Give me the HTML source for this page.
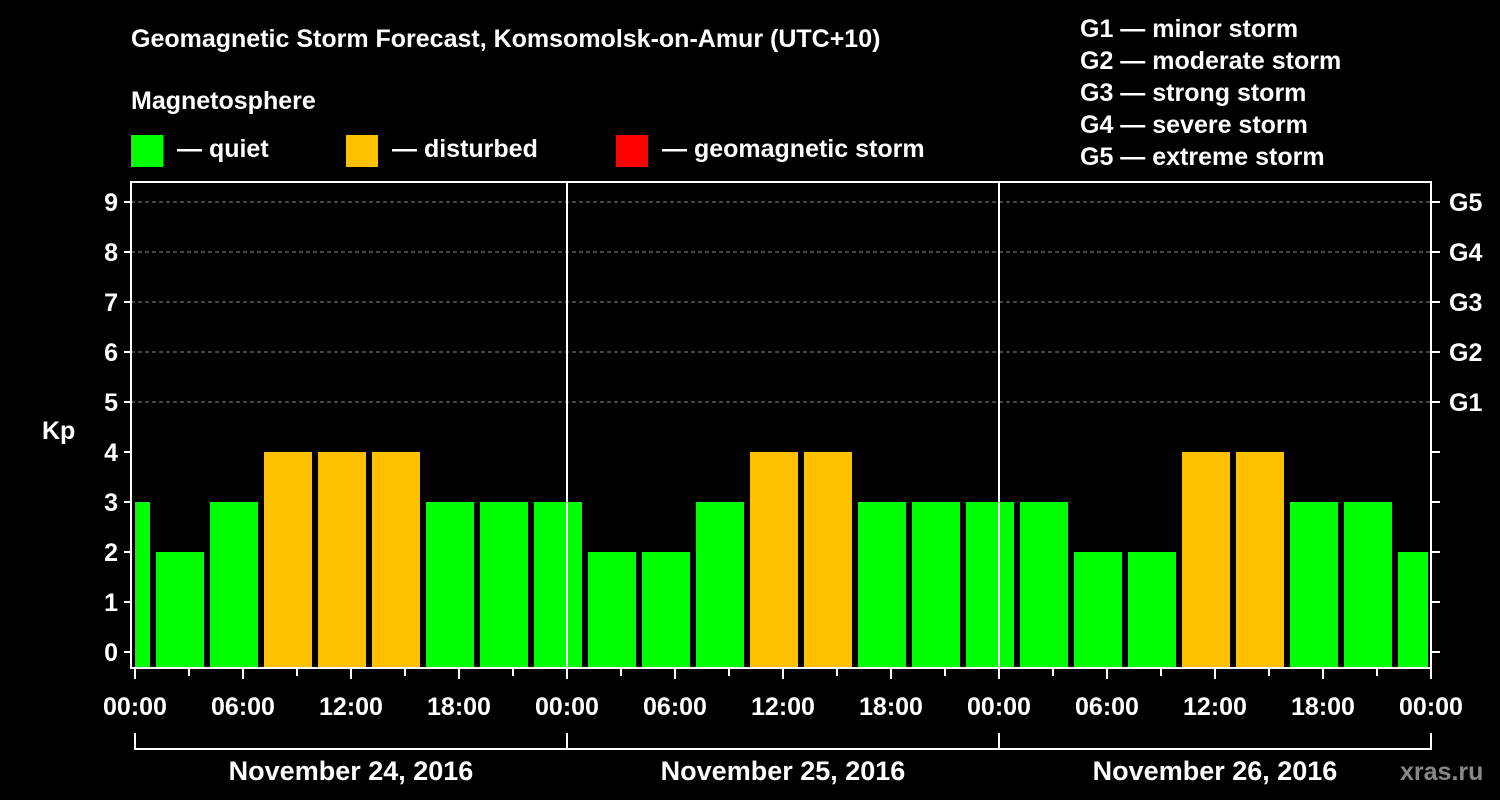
<!DOCTYPE html>
<html><head><meta charset="utf-8"><style>
html,body{margin:0;padding:0;background:#000;}
svg{display:block;font-family:"Liberation Sans",Arial,sans-serif;font-weight:bold;}
</style></head><body>
<svg id="chart" width="1500" height="800" viewBox="0 0 1500 800">
<rect width="1500" height="800" fill="#000"/>
<text x="131" y="47" fill="#fff" font-size="25">Geomagnetic Storm Forecast, Komsomolsk-on-Amur (UTC+10)</text>
<text x="131" y="109" fill="#fff" font-size="25">Magnetosphere</text>
<g><rect x="131" y="135" width="32" height="32" fill="#00ff00"/><text x="177" y="157" fill="#fff" font-size="25">— quiet</text></g>
<g><rect x="346" y="135" width="32" height="32" fill="#ffc000"/><text x="392" y="157" fill="#fff" font-size="25">— disturbed</text></g>
<g><rect x="616" y="135" width="32" height="32" fill="#ff0000"/><text x="662" y="157" fill="#fff" font-size="25">— geomagnetic storm</text></g>
<g fill="#fff" font-size="25">
<text x="1080" y="37">G1 — minor storm</text>
<text x="1080" y="69">G2 — moderate storm</text>
<text x="1080" y="101">G3 — strong storm</text>
<text x="1080" y="133">G4 — severe storm</text>
<text x="1080" y="165">G5 — extreme storm</text>
</g>
<text x="42" y="439" fill="#fff" font-size="25">Kp</text>
<text x="1400" y="780" fill="#888" font-size="25">xras.ru</text>
<g id="grid"></g><g id="bars"></g><g id="axes"></g>
</svg>
<script>
const kpValues = [3,2,3,4,4,4,3,3,3,2,2,3,4,4,3,3,3,3,2,2,4,4,3,3,2];
const firstBinHour = -2;
const binHours = 3;
const dayLabels = ["November 24, 2016","November 25, 2016","November 26, 2016"];
const timeLabels = ["00:00","06:00","12:00","18:00"];
const gLabels = ["G1","G2","G3","G4","G5"];
const yTicks = [0,1,2,3,4,5,6,7,8,9];

const NS="http://www.w3.org/2000/svg";
const X0=135, PXH=18, TOTALH=72, Y0=652, PXK=50, FL=131, FR=1431, FT=182, FB=668;
const xs=h=>X0+Math.max(0,Math.min(TOTALH,h))*PXH;
const ys=v=>Y0-v*PXK;
function mk(tag,attrs,parent){const e=document.createElementNS(NS,tag);for(const k in attrs)e.setAttribute(k,attrs[k]);parent.appendChild(e);return e;}
const grid=document.getElementById('grid'),bars=document.getElementById('bars'),axes=document.getElementById('axes');
// grid lines for G levels
yTicks.filter(v=>v>=5).forEach(v=>{
  const l=mk('line',{x1:FL,x2:FR,y1:ys(v),y2:ys(v),stroke:'#888','stroke-width':1,'stroke-dasharray':'4,3'},grid);
  
  
});
function color(v){return v>=5?'#ff0000':(v>=4?'#ffc000':'#00ff00');}
kpValues.forEach((v,i)=>{
  const s=firstBinHour+i*binHours, e=s+binHours;
  const x1=xs(s)+(s<0?0:3), x2=xs(e)-3;
  const r=mk('rect',{x:x1,y:ys(v),width:x2-x1,height:FB-1-ys(v),fill:color(v)},bars);
  
  
});
// day separators
for(let d=1;d<3;d++){
  const l=mk('line',{x1:xs(d*24),x2:xs(d*24),y1:FT,y2:FB,stroke:'#fff','stroke-width':2},axes);
  
  
}
const fr=mk('rect',{x:FL,y:FT,width:FR-FL,height:FB-FT,fill:'none',stroke:'#fff','stroke-width':2},axes);


yTicks.forEach(v=>{
  mk('line',{x1:FL-7,x2:FL,y1:ys(v),y2:ys(v),stroke:'#fff','stroke-width':2},axes);
  mk('line',{x1:FR,x2:FR+9,y1:ys(v),y2:ys(v),stroke:'#fff','stroke-width':2},axes);
  const t=mk('text',{x:118,y:ys(v)+9,fill:'#fff','font-size':25,'text-anchor':'end'},axes);
  t.textContent=v;
  
  
});
gLabels.forEach((g,i)=>{
  const t=mk('text',{x:1449,y:ys(5+i)+9,fill:'#fff','font-size':25},axes);
  t.textContent=g;
  
  
});
for(let h=0;h<=TOTALH;h+=3){
  const major=h%6===0;
  mk('line',{x1:xs(h),x2:xs(h),y1:FB,y2:FB+(major?11:8),stroke:'#fff','stroke-width':2},axes);
  if(major){
    const t=mk('text',{x:xs(h),y:715,fill:'#fff','font-size':25,'text-anchor':'middle'},axes);
    t.textContent=timeLabels[(h/6)%4];
    
    
  }
}
dayLabels.forEach((d,i)=>{
  const a=xs(i*24),b=xs((i+1)*24);
  mk('path',{d:`M${a},733 V749 H${b} V733`,fill:'none',stroke:'#fff','stroke-width':2},axes);
  const t=mk('text',{x:(a+b)/2,y:780,fill:'#fff','font-size':27,'text-anchor':'middle'},axes);
  t.textContent=d;
  
  
});
</script>
</body></html>
